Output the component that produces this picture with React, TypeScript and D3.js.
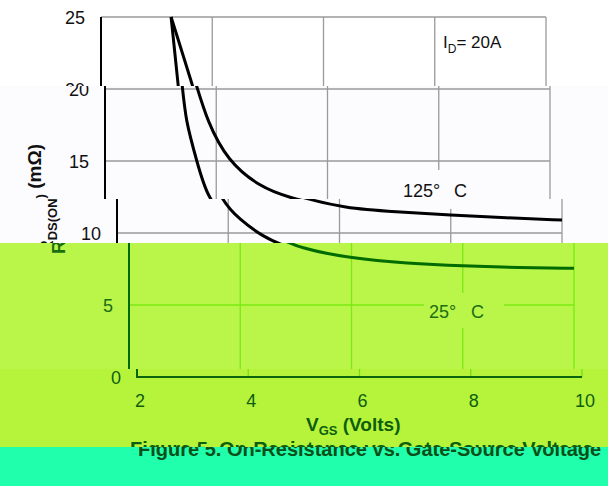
import React from 'react';
import * as d3 from 'd3';

// ---- data ----
const xTicks = [2, 4, 6, 8, 10];
const yTicks = [0, 5, 10, 15, 20, 25];
const xTickLabels = ['2', '4', '6', '8', '10'];
const yTickLabels = ['0', '5', '10', '15', '20', '25'];
const vgs125 = [3.26, 3.65, 3.83, 4.2, 4.79, 5.27, 6.1, 7.0, 8.0, 9.0, 10];
const r125 = [25, 20.2, 17.85, 15, 13.2, 12.5, 11.72, 11.48, 11.25, 11.05, 10.9];
const vgs25 = [3.26, 3.39, 3.45, 3.65, 3.84, 4.21, 4.63, 5.07, 6.0, 7.0, 8.0, 9.0, 10];
const r25 = [25, 20.2, 17.8, 15, 12.4, 10.9, 9.74, 8.94, 8.23, 7.9, 7.71, 7.6, 7.55];
const title = 'Figure 5. On-Resistance vs. Gate-Source Voltage';

// ---- layout / style ----
const W = 608;
const H = 486;
const FONT = 'Liberation Sans, Arial, sans-serif';
const x = d3.scaleLinear().domain([2, 10]).range([101, 546]);
const y = d3.scaleLinear().domain([0, 25]).range([377, 17]);

type Pal = { bg: string; ink: string; grid: string; text: string };

const bands: { top: number; bottom: number; shift: number; pal: Pal }[] = [
  { top: 0, bottom: 86, shift: 0, pal: { bg: '#ffffff', ink: '#000000', grid: '#9a9a9a', text: '#111111' } },
  { top: 86, bottom: 199, shift: 4, pal: { bg: '#fcfbfe', ink: '#000000', grid: '#9a9a9a', text: '#111111' } },
  { top: 199, bottom: 243, shift: 16, pal: { bg: '#fcfbfe', ink: '#000000', grid: '#9a9a9a', text: '#111111' } },
  { top: 243, bottom: 369, shift: 28, pal: { bg: '#baf54a', ink: '#006b00', grid: '#7aea12', text: '#1a6e12' } },
  { top: 369, bottom: 447, shift: 36, pal: { bg: '#b6f43c', ink: '#0a640a', grid: '#78e010', text: '#0d5e0d' } },
  { top: 447, bottom: 486, shift: 44, pal: { bg: '#20ffac', ink: '#0a5a1a', grid: '#10c070', text: '#0a4f18' } },
];

const line = d3
  .line<[number, number]>()
  .x((d) => x(d[0]))
  .y((d) => y(d[1]))
  .curve(d3.curveBasis);

const path125 = line(vgs125.map((v, i) => [v, r125[i]] as [number, number])) || '';
const path25 = line(vgs25.map((v, i) => [v, r25[i]] as [number, number])) || '';

function Layer({ pal }: { pal: Pal }) {
  const [x0, x1] = x.range();
  const [y0, y1] = y.range();
  return (
    <g fontFamily={FONT}>
      <rect x={-120} y={0} width={W + 240} height={H} fill={pal.bg} />
      {/* grid */}
      {yTicks.slice(1).map((t) => (
        <line key={'h' + t} x1={x0} x2={x1} y1={y(t)} y2={y(t)} stroke={pal.grid} strokeWidth={1.3} />
      ))}
      {xTicks.slice(1).map((t) => (
        <line key={'v' + t} x1={x(t)} x2={x(t)} y1={y1} y2={y0} stroke={pal.grid} strokeWidth={1.3} />
      ))}
      {/* label backgrounds */}
      <rect x={391} y={170} width={80} height={39} fill={pal.bg} />
      <rect x={396} y={293} width={80} height={35} fill={pal.bg} />
      {/* curves */}
      <path d={path125} fill="none" stroke={pal.ink} strokeWidth={3} />
      <path d={path25} fill="none" stroke={pal.ink} strokeWidth={3} />
      {/* axes */}
      <line x1={x0} x2={x0} y1={y1} y2={y0 + 1} stroke={pal.ink} strokeWidth={2} />
      <line x1={x0} x2={x1} y1={y0} y2={y0} stroke={pal.ink} strokeWidth={2} />
      {/* tick labels */}
      {yTicks.map((t, i) => (
        <text key={'yl' + t} x={85} y={y(t) + 6.5} textAnchor="end" fontSize={18} fill={pal.text}>
          {yTickLabels[i]}
        </text>
      ))}
      {xTicks.map((t, i) => (
        <text key={'xl' + t} x={x(t) + 3} y={407} textAnchor="middle" fontSize={18} fill={pal.text}>
          {xTickLabels[i]}
        </text>
      ))}
      {/* annotations */}
      <text x={443} y={48} fontSize={17} fill={pal.text}>
        I<tspan fontSize={12} dy={5}>D</tspan>
        <tspan dy={-5}>= 20A</tspan>
      </text>
      <text x={399} y={197} fontSize={18} fill={pal.text}>125°</text>
      <text x={450} y={197} fontSize={18} fill={pal.text}>C</text>
      <text x={401} y={318} fontSize={18} fill={pal.text}>25°</text>
      <text x={443} y={318} fontSize={18} fill={pal.text}>C</text>
      {/* axis titles */}
      <text transform="translate(37,199) rotate(-90)" textAnchor="middle" fontSize={19} fontWeight="bold" fill={pal.text}>
        R<tspan fontSize={13} dy={4}>DS(ON)</tspan>
        <tspan dy={-4}> (mΩ)</tspan>
      </text>
      <text x={270} y={431} fontSize={19} fontWeight="bold" fill={pal.text}>
        V<tspan fontSize={13} dy={4}>GS</tspan>
        <tspan dy={-4}> (Volts)</tspan>
      </text>
      {/* figure title */}
      <text x={94} y={456} fontSize={20} fontWeight="bold" fill={pal.text}>
        {title}
      </text>
    </g>
  );
}

export default function App() {
  return (
    <svg
      width={W}
      height={H}
      viewBox={`0 0 ${W} ${H}`}
      style={{ position: 'absolute', left: 0, top: 0, display: 'block' }}
    >
      <defs>
        {bands.map((b, i) => (
          <clipPath key={i} id={'band' + i}>
            <rect x={0} y={b.top} width={W} height={b.bottom - b.top} />
          </clipPath>
        ))}
      </defs>
      {bands.map((b, i) => (
        <g key={i} clipPath={`url(#band${i})`}>
          <g transform={`translate(${b.shift},0)`}>
            <Layer pal={b.pal} />
          </g>
        </g>
      ))}
    </svg>
  );
}
